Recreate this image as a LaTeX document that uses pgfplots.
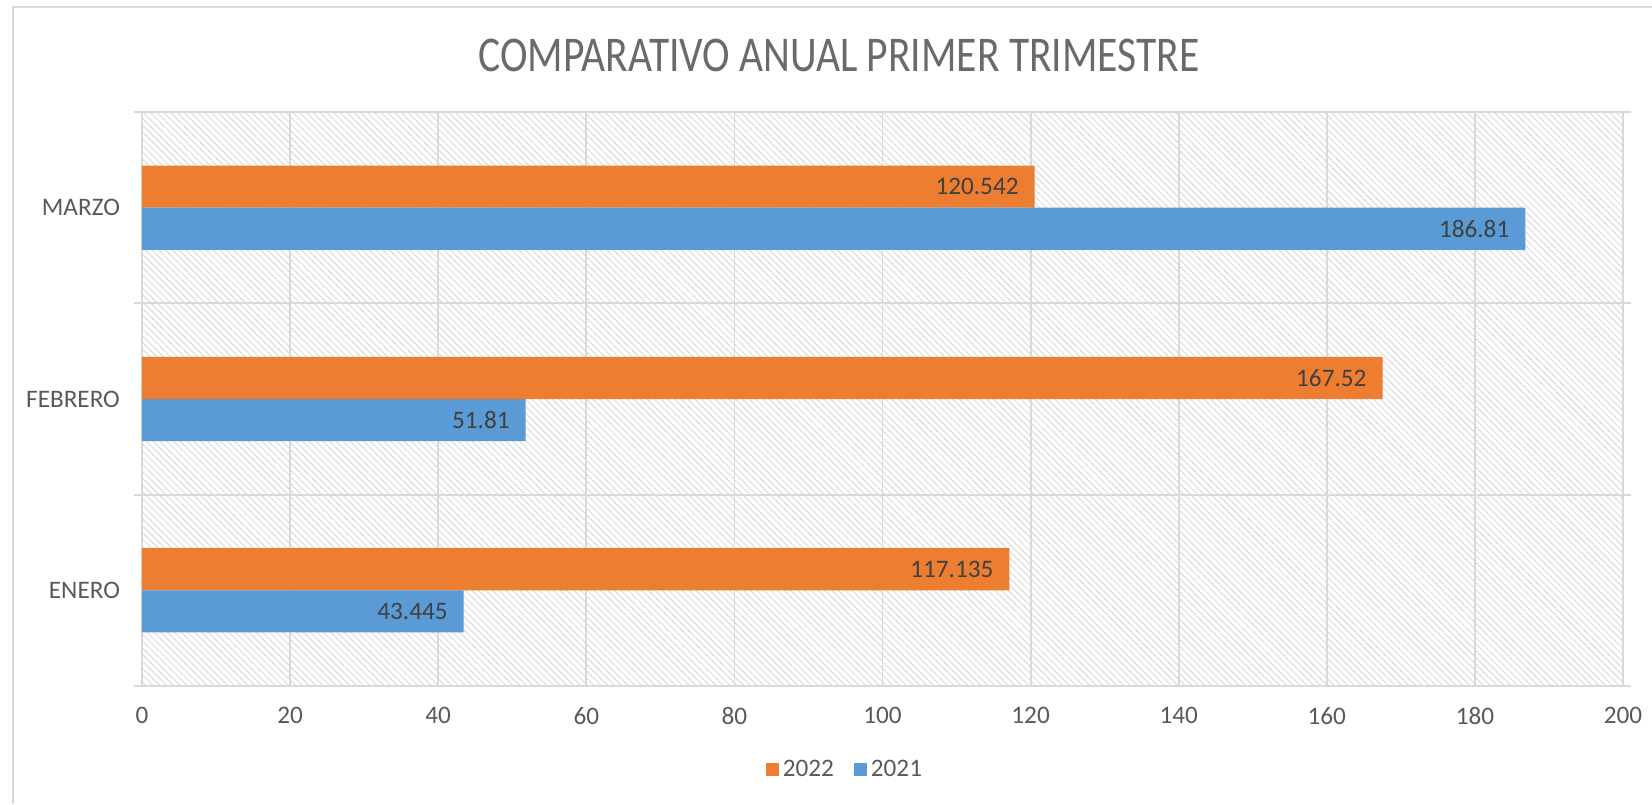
\documentclass[border=0pt]{standalone}
\usepackage{fontspec}
\setmainfont{Carlito}
\usepackage{graphicx}
\usepackage{pgfplots}
\pgfplotsset{compat=1.18}
\usetikzlibrary{patterns.meta}
\definecolor{orangebar}{HTML}{ED7D31}
\definecolor{bluebar}{HTML}{5B9BD5}
\definecolor{gridc}{HTML}{D9D9D9}
\definecolor{hatchc}{HTML}{DADADA}
\definecolor{labelc}{HTML}{595959}
\definecolor{valc}{HTML}{404040}
\definecolor{titlec}{HTML}{6A6A6A}

% categories: 0 ENERO, 1 FEBRERO, 2 MARZO
\pgfplotstableread{
y v
0 117.135
1 167.52
2 120.542
}\datadosmil
\pgfplotstableread{
y v
0 43.445
1 51.81
2 186.81
}\datauno

\begin{document}
\begin{tikzpicture}
\begin{axis}[
  at={(71pt,59pt)}, anchor=south west,
  scale only axis, width=740.5pt, height=287pt,
  xbar, bar width=0.22,
  xmin=0, xmax=200, ymin=-0.5, ymax=2.5,
  xtick={0,20,...,200},
  ytick={0,1,2}, yticklabels={ENERO,FEBRERO,MARZO},
  minor ytick={-0.5,0.5,1.5,2.5},
  xmajorgrids, yminorgrids, ymajorgrids=false,
  grid style={draw=gridc, line width=0.9pt},
  minor grid style={draw=gridc, line width=0.9pt},
  tick align=outside, major tick length=0pt, minor tick length=4pt,
  minor tick style={draw=gridc, line width=0.9pt},
  xtick style={draw=none},
  axis line style={draw=gridc, line width=0.9pt},
  axis background/.style={pattern={Lines[angle=-45,distance=2.4pt,line width=0.5pt]}, pattern color=hatchc},
  /pgf/number format/assume math mode=true,
  ticklabel style={font=\fontsize{12.6}{15}\selectfont, text=labelc},
  xticklabel shift=7pt, yticklabel shift=7.5pt,
  point meta=x,
  nodes near coords={\pgfmathprintnumber[fixed,precision=3]{\pgfplotspointmeta}},
  every node near coord/.append style={anchor=east, xshift=-4.5pt,
    font=\fontsize{12.6}{15}\selectfont, text=valc},
  legend columns=2,
  legend style={at={(0.4753,-0.1463)}, anchor=center, draw=none, fill=none,
    font=\fontsize{12.6}{15}\selectfont, text=labelc,
    /tikz/every even column/.append style={column sep=8pt}},
  legend image code/.code={\fill[#1] (0pt,-3.25pt) rectangle (6.5pt,3.25pt);},
]
\addplot[fill=orangebar, draw=none, bar shift=0.11] table[x=v, y=y] {\datadosmil};
\addlegendentry{2022}
\addplot[fill=bluebar, draw=none, bar shift=-0.11] table[x=v, y=y] {\datauno};
\addlegendentry{2021}
\end{axis}
\node[text=titlec, anchor=center] at (419.5pt,374.5pt)
  {\scalebox{0.83}[1]{\fontsize{25}{30}\selectfont COMPARATIVO ANUAL PRIMER TRIMESTRE}};
\draw[gridc, line width=1pt] (6.5pt,0pt) -- (6.5pt,398.5pt) -- (830pt,398.5pt);
\pgfresetboundingbox
\path[use as bounding box] (0pt,0pt) rectangle (826pt,402pt);
\end{tikzpicture}
\end{document}
